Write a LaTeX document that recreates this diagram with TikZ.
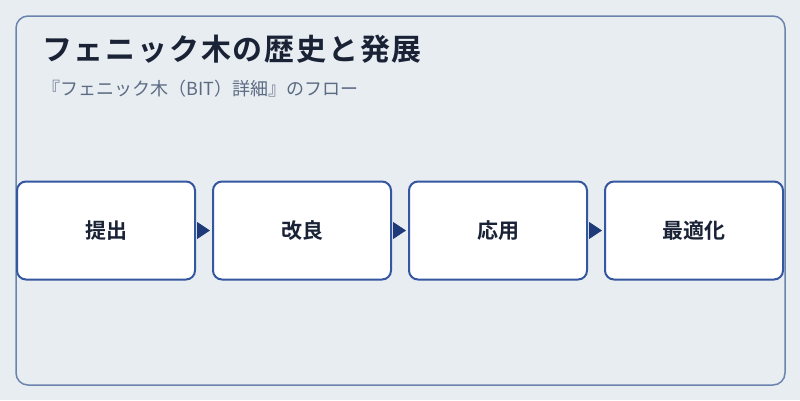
\documentclass[tikz,border=0pt]{standalone}
\usepackage{fontspec}
\setmainfont{Noto Sans CJK JP}
\newfontfamily\jpbold{Noto Sans CJK JP Bold}
\newfontfamily\jptitle[LetterSpace=6]{Noto Sans CJK JP Bold}
\usetikzlibrary{arrows.meta}
\definecolor{bgc}{HTML}{E8EDF2}
\definecolor{framec}{HTML}{6B84AD}
\definecolor{boxc}{HTML}{3457A0}
\definecolor{titlec}{HTML}{1A2236}
\definecolor{subc}{HTML}{5B6B82}
\definecolor{arrc}{HTML}{1E3A78}
\tikzset{
  stepbox/.style={draw=boxc, line width=2pt, fill=white, rounded corners=9pt,
    minimum width=178pt, minimum height=98pt, inner sep=0pt,
    font=\jpbold\fontsize{21}{24}\selectfont, text=titlec},
  flowarrow/.style={draw=arrc, line width=1pt, shorten <=2pt, shorten >=2pt,
    -{Triangle[length=13pt,width=17pt]}},
}
\begin{document}
\begin{tikzpicture}[x=1pt,y=-1pt]
\useasboundingbox (0,0) rectangle (800,400);
\fill[bgc] (0,0) rectangle (800,400);
\draw[framec, line width=1.5pt, fill=bgc, rounded corners=12pt] (16,16) rectangle (785,385);
\node[anchor=base west, inner sep=0pt, text=titlec, font=\jptitle\fontsize{30}{34}\selectfont] (title) at (42,60) {フェニック木の歴史と発展};
\node[anchor=base west, inner sep=0pt, text=subc, font=\fontsize{18}{20}\selectfont] (sub) at (42,95) {『フェニック木（BIT）詳細』のフロー};
\node[stepbox] (s1) at (106,230.5) {提出};
\node[stepbox] (s2) at (302,230.5) {改良};
\node[stepbox] (s3) at (498,230.5) {応用};
\node[stepbox] (s4) at (694,230.5) {最適化};
\draw[flowarrow] (s1.east) -- (s2.west);
\draw[flowarrow] (s2.east) -- (s3.west);
\draw[flowarrow] (s3.east) -- (s4.west);
\end{tikzpicture}
\end{document}
